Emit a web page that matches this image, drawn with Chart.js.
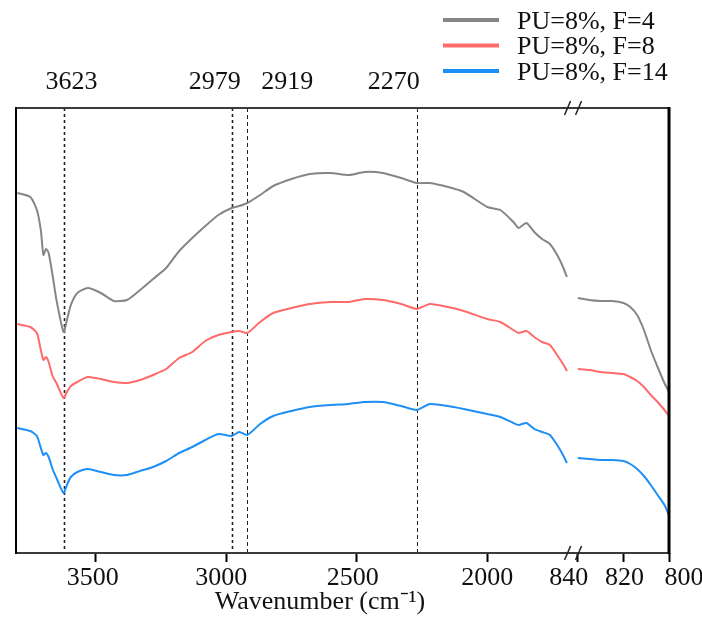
<!DOCTYPE html>
<html>
<head>
<meta charset="utf-8">
<script src="https://cdn.jsdelivr.net/npm/chart.js@4/dist/chart.umd.min.js"></script>
<style>
  html, body { margin: 0; padding: 0; background: #ffffff; }
  #ftir { display: block; }
</style>
</head>
<body>
<canvas id="ftir" width="702" height="621"></canvas>
<script>
// Wavenumbers (cm-1); the axis is broken between 1695 and 840.
var wavenumbers = [
  3800, 3750, 3725, 3710, 3700, 3690, 3680, 3665, 3650, 3623, 3610, 3595, 3570,
  3530, 3480, 3430, 3380, 3330, 3280, 3230, 3180, 3130, 3080, 3030, 2979, 2950,
  2919, 2870, 2820, 2750, 2680, 2600, 2530, 2470, 2400, 2330, 2270, 2220, 2150,
  2090, 2000, 1950, 1900, 1880, 1850, 1820, 1790, 1760, 1730, 1710, 1695,
  840, 835, 830, 825, 820, 817, 814, 811, 808, 805, 802, 800
];

// Transmittance, arbitrary units (traces are offset vertically in the figure).
var seriesF4 = [
  360, 356, 343, 323, 298, 304, 300, 278, 253, 221, 233, 248, 260,
  265, 260, 252, 253, 263, 274, 285, 302, 315, 327, 338, 345, 347,
  350, 358, 367, 374, 379, 380, 378, 381, 380, 375, 370, 370, 366,
  361, 346, 343, 331, 325, 330, 321, 314, 309, 297, 286, 276,
  255, 253, 252, 252, 250, 246, 238, 223, 203, 186, 170, 161
];
var seriesF8 = [
  229, 226, 220, 203, 193, 196, 191, 177, 170, 155, 161, 167, 171,
  176, 174, 171, 170, 173, 178, 184, 195, 201, 212, 218, 221, 222,
  220, 231, 240, 245, 249, 251, 251, 254, 253, 249, 244, 249, 246,
  242, 234, 231, 223, 220, 222, 216, 211, 208, 197, 189, 182,
  184, 183, 181, 180, 179, 176, 172, 166, 158, 151, 143, 137
];
var seriesF14 = [
  125, 122, 117, 105, 98, 100, 96, 84, 75, 60, 68, 76, 81,
  84, 81, 78, 78, 82, 86, 92, 100, 106, 113, 119, 117, 121,
  118, 129, 137, 142, 146, 148, 149, 151, 151, 147, 143, 149, 147,
  144, 139, 136, 130, 128, 130, 124, 121, 118, 107, 98, 90,
  95, 94, 93, 93, 92, 89, 84, 77, 68, 58, 48, 38
];

var seriesLabels = ['PU=8%, F=4', 'PU=8%, F=8', 'PU=8%, F=14'];
var seriesColors = ['#868686', '#ff6a6a', '#1e8ff5'];
var tickValues = [3500, 3000, 2500, 2000, 840, 820, 800];
var peakValues = [3623, 2979, 2919, 2270];
var axisTitle = 'Wavenumber (cm\u207B\u00B9)';

// Broken-axis geometry: two linear pieces joined on one Chart.js linear scale.
var LEFT_START = 3805, LEFT_RATE = 0.2607;
var RIGHT_START = 840, RIGHT_RATE = 2.275, RIGHT_OFFSET = 561;
var BREAK_LOW = 1200;

function toAxis(wn) {
  if (wn >= BREAK_LOW) {
    return (LEFT_START - wn) * LEFT_RATE;
  }
  return RIGHT_OFFSET + (RIGHT_START - wn) * RIGHT_RATE;
}

function buildPoints(values) {
  var pts = [];
  for (var i = 0; i < wavenumbers.length; i++) {
    // leave a gap where the axis is broken
    if (i > 0 && wavenumbers[i - 1] >= BREAK_LOW && wavenumbers[i] < BREAK_LOW) {
      pts.push({ x: (toAxis(wavenumbers[i - 1]) + toAxis(wavenumbers[i])) / 2, y: null });
    }
    pts.push({ x: toAxis(wavenumbers[i]), y: values[i] });
  }
  return pts;
}

var FONT = 'Liberation Serif, Times New Roman, serif';

var ftirDecor = {
  id: 'ftirDecor',
  beforeDatasetsDraw: function (chart) {
    var ctx = chart.ctx, area = chart.chartArea, xs = chart.scales.x;
    var widths = [1.6, 1.6, 1, 1];
    var dashes = [[3, 3], [3, 3], [4, 3], [4, 3]];
    ctx.save();
    ctx.strokeStyle = '#222';
    peakValues.forEach(function (p, i) {
      var x = Math.round(xs.getPixelForValue(toAxis(p))) + 0.5;
      ctx.lineWidth = widths[i];
      ctx.setLineDash(dashes[i]);
      ctx.beginPath();
      ctx.moveTo(x, area.top);
      ctx.lineTo(x, area.bottom);
      ctx.stroke();
    });
    ctx.restore();
  },
  afterDraw: function (chart) {
    var ctx = chart.ctx, area = chart.chartArea, xs = chart.scales.x;
    ctx.save();

    // frame
    ctx.lineCap = 'butt';
    ctx.strokeStyle = '#3a3a3a';
    ctx.lineWidth = 2;
    ctx.beginPath();
    ctx.moveTo(area.left, area.top);
    ctx.lineTo(area.right, area.top);
    ctx.moveTo(area.left, area.bottom);
    ctx.lineTo(area.right, area.bottom);
    ctx.stroke();
    ctx.strokeStyle = '#000';
    ctx.beginPath();
    ctx.moveTo(area.left, area.top - 1);
    ctx.lineTo(area.left, area.bottom + 1);
    ctx.stroke();
    ctx.lineWidth = 3;
    ctx.beginPath();
    ctx.moveTo(area.right, area.top - 1);
    ctx.lineTo(area.right, area.bottom + 1);
    ctx.stroke();

    // break marks on top and bottom edges
    var mid = (xs.getPixelForValue(toAxis(1690)) + xs.getPixelForValue(toAxis(840))) / 2;
    ctx.lineWidth = 1.5;
    ctx.strokeStyle = '#222';
    [area.top, area.bottom].forEach(function (y) {
      [mid - 5.5, mid + 5.5].forEach(function (cx) {
        ctx.beginPath();
        ctx.moveTo(cx - 3, y + 7);
        ctx.lineTo(cx + 3, y - 7);
        ctx.stroke();
      });
    });

    ctx.fillStyle = '#111';
    ctx.font = '26px ' + FONT;
    ctx.textAlign = 'center';
    ctx.textBaseline = 'alphabetic';

    // tick labels (the figure nudges a few of them sideways)
    var tickShift = [-3, -5, -4, 0, -9, 1, 15];
    tickValues.forEach(function (v, i) {
      var x = xs.getPixelForValue(toAxis(v)) + tickShift[i];
      ctx.fillText(String(v), x, 585);
    });

    // peak labels above the frame
    var labelShift = [8, -17, 40, -23];
    peakValues.forEach(function (p, i) {
      var x = xs.getPixelForValue(toAxis(p)) + labelShift[i];
      ctx.fillText(String(p), x, 89);
    });

    // x axis title
    ctx.fillText(axisTitle, 320, 609);

    // legend, top right
    ctx.textAlign = 'left';
    chart.data.datasets.forEach(function (ds, i) {
      var y = 20 + i * 25.5;
      ctx.strokeStyle = ds.borderColor;
      ctx.lineWidth = 4;
      ctx.beginPath();
      ctx.moveTo(443, y);
      ctx.lineTo(499, y);
      ctx.stroke();
      ctx.fillStyle = '#111';
      ctx.fillText(ds.label, 517, y + 8.5);
    });

    ctx.restore();
  }
};

new Chart(document.getElementById('ftir'), {
  type: 'line',
  data: {
    datasets: seriesLabels.map(function (label, i) {
      return {
        label: label,
        data: buildPoints([seriesF4, seriesF8, seriesF14][i]),
        borderColor: seriesColors[i],
        borderWidth: 2,
        pointRadius: 0,
        tension: 0.2,
        spanGaps: false,
        fill: false
      };
    })
  },
  options: {
    responsive: false,
    animation: false,
    devicePixelRatio: 1,
    layout: { padding: { left: 16, right: 33, top: 108, bottom: 59 } },
    plugins: {
      legend: { display: false },
      tooltip: { enabled: false }
    },
    scales: {
      x: {
        type: 'linear',
        min: 0,
        max: toAxis(800),
        afterBuildTicks: function (axis) {
          axis.ticks = tickValues.map(function (v) { return { value: toAxis(v) }; });
        },
        ticks: { display: false, autoSkip: false },
        grid: {
          display: true,
          drawOnChartArea: false,
          drawTicks: true,
          tickLength: 9,
          tickWidth: 2,
          tickColor: '#000'
        },
        border: { display: false }
      },
      y: {
        display: false,
        min: 0,
        max: 445
      }
    }
  },
  plugins: [ftirDecor]
});
</script>
</body>
</html>
